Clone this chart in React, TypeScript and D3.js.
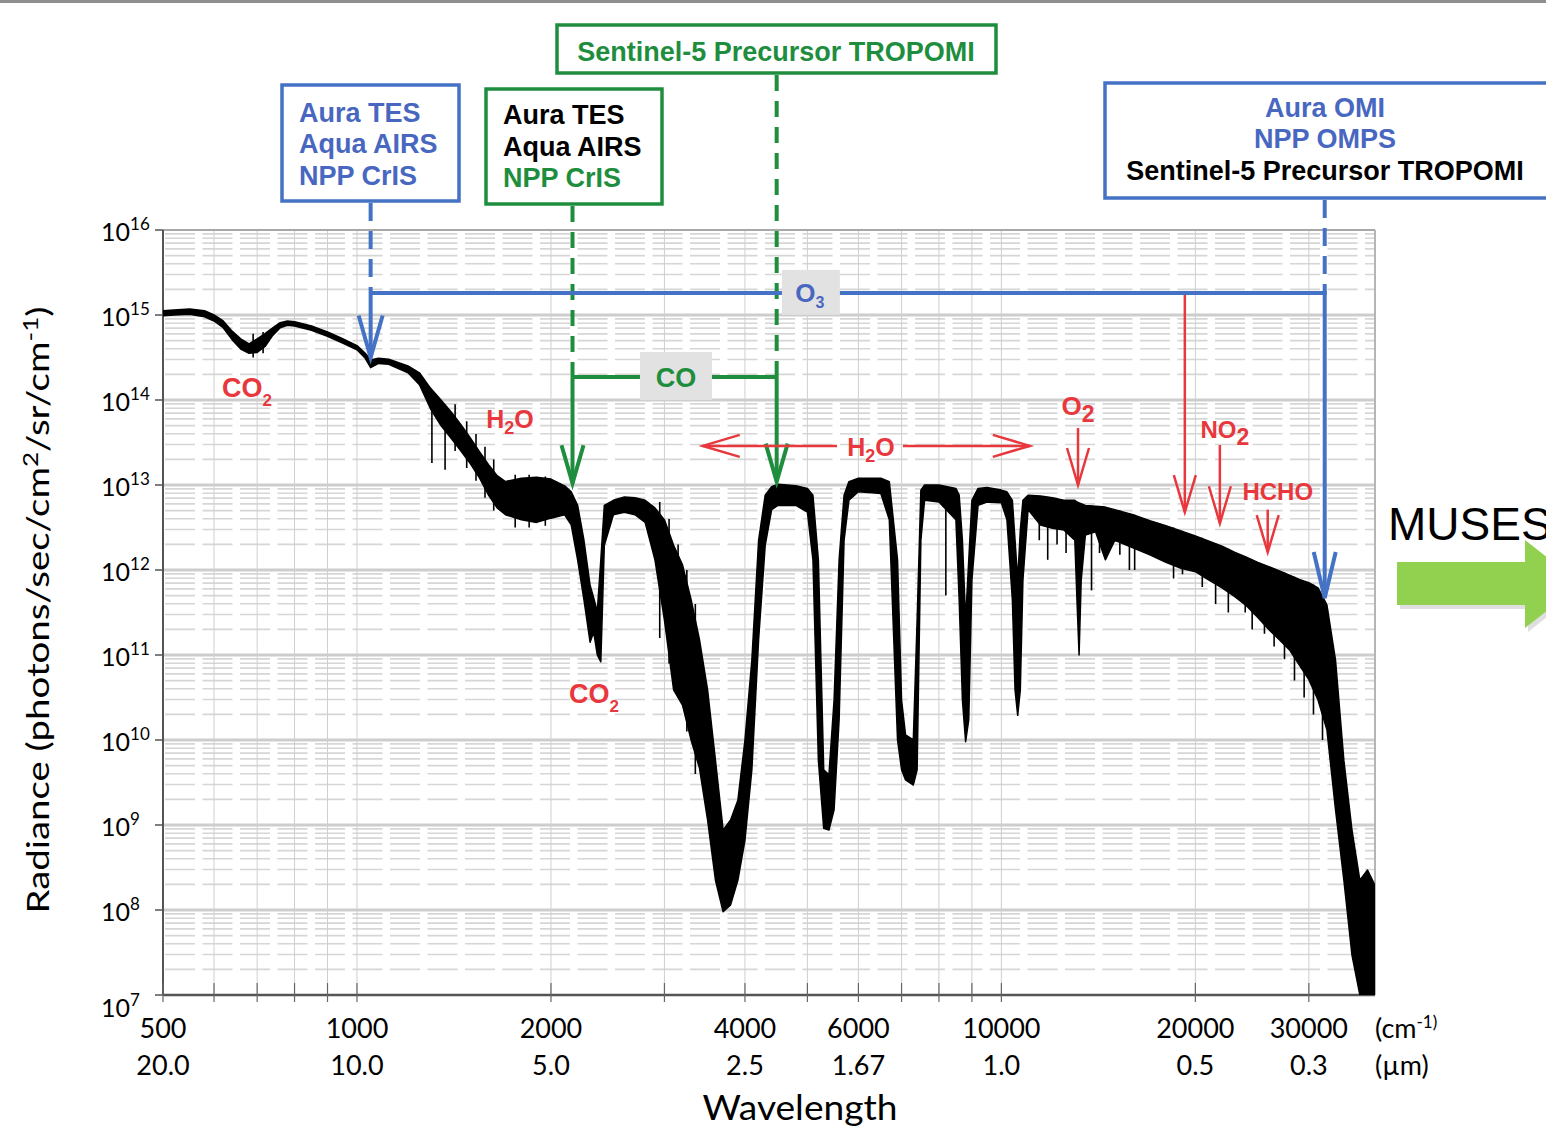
import React from "react";
import * as d3 from "d3";

// ---------- Spectrum: wavenumber in cm^-1, log10 radiance envelope ----------
const wavenumber = [
  500, 520, 550, 580, 600, 620, 640, 660, 680, 700,
  720, 740, 760, 780, 800, 850, 900, 950, 1000, 1030,
  1050, 1080, 1120, 1200, 1250, 1300, 1350, 1400, 1450, 1500,
  1550, 1600, 1650, 1700, 1800, 1900, 2000, 2100, 2150, 2200,
  2250, 2300, 2330, 2360, 2390, 2420, 2500, 2600, 2700, 2800,
  2900, 3000, 3100, 3200, 3300, 3400, 3500, 3600, 3700, 3800,
  3900, 4000, 4100, 4200, 4300, 4400, 4500, 4800, 5000, 5100,
  5200, 5300, 5400, 5500, 5600, 5700, 5800, 6000, 6500, 6700,
  6900, 7000, 7100, 7300, 7400, 7500, 7600, 8000, 8500, 8600,
  8700, 8800, 8900, 9000, 9200, 9500, 10000, 10200, 10400, 10500,
  10600, 10700, 10800, 11000, 11500, 12000, 12500, 13000, 13100, 13200,
  13300, 13500, 14000, 14500, 15000, 16000, 17000, 18000, 19000, 20000,
  21000, 22000, 23000, 24000, 25000, 26000, 27000, 28000, 29000, 30000,
  31000, 32000, 33000, 34000, 35000, 36000, 37000, 38000,
];
const radianceUpperLog10 = [
  15.05, 15.06, 15.07, 15.05, 15.0, 14.93, 14.81, 14.72, 14.66, 14.72,
  14.78, 14.85, 14.91, 14.93, 14.92, 14.87, 14.8, 14.72, 14.64, 14.55,
  14.47, 14.49, 14.48, 14.4, 14.32, 14.14, 14.0, 13.86, 13.71, 13.55,
  13.39, 13.24, 13.11, 13.04, 13.08, 13.09, 13.07, 12.99, 12.92, 12.76,
  12.35, 11.82, 11.67, 11.51, 12.12, 12.76, 12.82, 12.86, 12.85, 12.82,
  12.73, 12.59, 12.29, 12.06, 11.65, 11.18, 10.59, 9.76, 8.94, 9.06,
  9.29, 10.0, 10.94, 12.35, 12.88, 12.98, 13.01, 12.99, 12.96, 12.88,
  12.12, 9.65, 9.59, 10.47, 12.12, 12.88, 13.04, 13.08, 13.08, 13.04,
  12.12, 10.47, 10.06, 10.0, 11.41, 12.94, 13.0, 13.0, 12.96, 12.88,
  12.35, 11.41, 12.12, 12.82, 12.96, 12.97, 12.94, 12.92, 12.82, 12.35,
  11.88, 12.47, 12.82, 12.88, 12.87, 12.85, 12.82, 12.82, 12.8, 12.79,
  12.78, 12.76, 12.75, 12.74, 12.71, 12.65, 12.58, 12.52, 12.46, 12.4,
  12.34, 12.28, 12.21, 12.15, 12.09, 12.04, 11.99, 11.94, 11.89, 11.85,
  11.79, 11.59, 10.94, 9.76, 8.94, 8.35, 8.47, 8.29,
];
const radianceLowerLog10 = [
  14.99, 15.0, 15.01, 14.98, 14.93, 14.85, 14.71, 14.6, 14.55, 14.56,
  14.63, 14.76, 14.85, 14.88, 14.87, 14.82, 14.75, 14.67, 14.59, 14.49,
  14.38, 14.43, 14.42, 14.32, 14.18, 13.9, 13.7, 13.55, 13.4, 13.25,
  13.08, 12.88, 12.73, 12.65, 12.59, 12.56, 12.61, 12.65, 12.53, 12.12,
  11.65, 11.15, 11.27, 11.0, 10.92, 12.29, 12.65, 12.68, 12.65, 12.56,
  12.12, 11.41, 10.59, 10.41, 10.0, 9.67, 9.06, 8.35, 7.98, 8.06,
  8.35, 8.82, 9.65, 11.18, 12.29, 12.71, 12.76, 12.76, 12.68, 12.12,
  9.76, 8.96, 8.94, 9.18, 10.24, 12.35, 12.82, 12.92, 12.9, 12.59,
  10.0, 9.65, 9.53, 9.47, 9.65, 12.35, 12.82, 12.8, 12.59, 11.65,
  10.47, 9.98, 10.24, 11.88, 12.76, 12.8, 12.79, 12.59, 11.65, 10.59,
  10.29, 10.59, 11.88, 12.71, 12.53, 12.49, 12.47, 12.35, 11.65, 11.0,
  11.88, 12.41, 12.45, 12.12, 12.35, 12.26, 12.18, 12.09, 12.02, 11.98,
  11.88, 11.79, 11.69, 11.58, 11.44, 11.3, 11.18, 11.06, 10.88, 10.71,
  10.47, 10.12, 9.18, 8.35, 7.47, 7.0, 7.0, 7.0,
];

// Narrow absorption lines (each spans an upper and a lower value)
const spikeWavenumber = [
  690, 715, 1307, 1370, 1420, 1480, 1530, 1580, 1630, 1760,
  1850, 1960, 2950, 3050, 3150, 3250, 3350, 8200, 11450, 11800,
  12200, 12600, 13800, 14200, 15270, 15800, 16100, 17600, 18500, 19100,
  20500, 21500, 22500, 23900, 24500, 25600, 26500, 27500, 28500, 29500,
  30500, 31500,
];
const spikeUpperLog10 = [
  14.78, 14.8, 14.06, 13.9, 13.95, 13.75, 13.6, 13.45, 13.3, 13.12,
  13.12, 13.1, 12.8, 12.6, 12.3, 12.0, 11.6, 12.97, 12.87, 12.86,
  12.84, 12.82, 12.76, 12.75, 12.7, 12.67, 12.65, 12.55, 12.5, 12.46,
  12.38, 12.31, 12.25, 12.16, 12.12, 12.06, 12.02, 11.97, 11.92, 11.87,
  11.83, 11.7,
];
const spikeLowerLog10 = [
  14.5, 14.55, 13.26, 13.18, 13.4, 13.2, 13.05, 12.85, 12.7, 12.5,
  12.5, 12.52, 11.2, 10.9, 10.5, 10.1, 9.6, 11.7, 12.35, 12.12,
  12.3, 12.2, 11.76, 12.2, 12.18, 12.0, 12.0, 12.12, 11.9, 11.95,
  11.8, 11.6, 11.5, 11.5, 11.3, 11.25, 11.1, 10.95, 10.7, 10.5,
  10.3, 10.0,
];

// ---------- Axes ----------
const xLabelTicks = [500, 1000, 2000, 4000, 6000, 10000, 20000, 30000];
const wavenumberLabels = ["500", "1000", "2000", "4000", "6000", "10000", "20000", "30000"];
const wavelengthLabels = ["20.0", "10.0", "5.0", "2.5", "1.67", "1.0", "0.5", "0.3"];
const xGridTicks = [500, 600, 700, 800, 900, 1000, 2000, 3000, 4000, 5000, 6000, 7000, 8000, 9000, 10000, 20000, 30000];
const yDecadeExponents = [7, 8, 9, 10, 11, 12, 13, 14, 15, 16];

// ---------- Annotations (wavenumber, log10 radiance) ----------
const o3Bracket = { from: 1050, to: 31750, level: 15.26, tipFrom: 14.5, tipTo: 11.67, labelAt: 5045 };
const coBracket = { from: 2160, to: 4480, level: 14.27, tipFrom: 13.02, tipTo: 13.04, labelAt: 3126 };
const redArrowWavenumber = [19260, 13150, 21830, 25900];
const redArrowStartLog10 = [15.26, 13.67, 13.47, 12.71];
const redArrowEndLog10 = [12.68, 13.0, 12.55, 12.21];
const h2oSpan = { from: 3440, to: 11070, level: 13.46, labelAt: 6275 };

type Part = [string, boolean];
const redLabels: { wn: number; lg: number; parts: Part[]; size: number; sub: number; dy: number }[] = [
  { wn: 675, lg: 14.035, parts: [["CO", false], ["2", true]], size: 27, sub: 17, dy: 9 },
  { wn: 1727, lg: 13.67, parts: [["H", false], ["2", true], ["O", false]], size: 25, sub: 18, dy: 6 },
  { wn: 2333, lg: 10.44, parts: [["CO", false], ["2", true]], size: 27, sub: 17, dy: 9 },
  { wn: 6275, lg: 13.34, parts: [["H", false], ["2", true], ["O", false]], size: 25, sub: 18, dy: 6 },
  { wn: 13150, lg: 13.82, parts: [["O", false], ["2", true]], size: 26, sub: 23, dy: 7 },
  { wn: 22220, lg: 13.55, parts: [["NO", false], ["2", true]], size: 24, sub: 23, dy: 7 },
  { wn: 26850, lg: 12.82, parts: [["HCHO", false]], size: 24, sub: 18, dy: 0 },
];

const BLUE = "#4472C4";
const BLUE_TEXT = "#4867C0";
const GREEN = "#1E8E3E";
const RED = "#E8383D";
const BOLD = "'Liberation Sans', Arial, sans-serif";
const NUM = "Lato, 'Open Sans', sans-serif";

function parts(ps: Part[], size: number, sub: number, dy: number) {
  let shifted = false;
  return ps.map(([t, isSub], i) => {
    let d = 0;
    if (isSub && !shifted) { d = dy; shifted = true; }
    else if (!isSub && shifted) { d = -dy; shifted = false; }
    return (
      <tspan key={i} dy={d} fontSize={isSub ? sub : size}>{t}</tspan>
    );
  });
}

const vDown = (cx: number, tip: number, hw: number, len: number) =>
  `M${cx - hw},${tip - len}L${cx},${tip}L${cx + hw},${tip - len}`;
const vLeft = (tip: number, cy: number, hw: number, len: number) =>
  `M${tip + len},${cy - hw}L${tip},${cy}L${tip + len},${cy + hw}`;
const vRight = (tip: number, cy: number, hw: number, len: number) =>
  `M${tip - len},${cy - hw}L${tip},${cy}L${tip - len},${cy + hw}`;

export default function App() {
  const W = 1546, H = 1128;
  const L = 163, R = 1375, T = 230, B = 995;
  const x = d3.scaleLog().domain([500, 38000]).range([L, R]);
  const y = d3.scaleLog().domain([1e7, 1e16]).range([B, T]);
  const yl = (v: number) => y(Math.pow(10, v));

  const spectrum = wavenumber.map((w, i) => ({ w, hi: radianceUpperLog10[i], lo: radianceLowerLog10[i] }));
  const areaGen = d3
    .area<{ w: number; hi: number; lo: number }>()
    .x((d) => x(d.w))
    .y0((d) => yl(d.lo))
    .y1((d) => yl(d.hi));

  const minorY: number[] = [];
  for (let e = 7; e < 16; e++) for (let m = 2; m <= 9; m++) minorY.push(m * Math.pow(10, e));

  const o3y = yl(o3Bracket.level);
  const coy = yl(coBracket.level);
  const h2oy = yl(h2oSpan.level);
  const h2oCx = x(h2oSpan.labelAt);

  return (
    <div style={{ position: "absolute", left: 0, top: 0 }}>
      <svg width={W} height={H} style={{ display: "block", background: "#fff" }}>
        <defs>
          <clipPath id="plotClip">
            <rect x={L} y={T} width={R - L} height={B - T} />
          </clipPath>
        </defs>
        <rect x={0} y={0} width={W} height={3} fill="#8f8f8f" />

        {/* grid */}
        <g>
          {minorY.map((v, i) => (
            <line key={"m" + i} x1={L} x2={R} y1={y(v)} y2={y(v)} stroke="#d6d6d6" strokeWidth={1.6} strokeDasharray="30 7.5" strokeDashoffset={-2} />
          ))}
          {yDecadeExponents.slice(1, -1).map((e) => (
            <line key={"M" + e} x1={L} x2={R} y1={yl(e)} y2={yl(e)} stroke="#cdcdcd" strokeWidth={3} />
          ))}
          {xGridTicks.map((t) => (
            <line key={"v" + t} x1={x(t)} x2={x(t)} y1={T} y2={B} stroke="#cfcfcf" strokeWidth={1} />
          ))}
        </g>

        {/* frame */}
        <line x1={L} x2={R} y1={T} y2={T} stroke="#a8a8a8" strokeWidth={2} />
        <line x1={R} x2={R} y1={T} y2={B} stroke="#b5b5b5" strokeWidth={2} />
        <line x1={L} x2={L} y1={T} y2={B} stroke="#555" strokeWidth={2} />
        <line x1={L} x2={R} y1={B} y2={B} stroke="#555" strokeWidth={2.5} />
        {yDecadeExponents.map((e) => (
          <line key={"yt" + e} x1={L - 8} x2={L} y1={yl(e)} y2={yl(e)} stroke="#555" strokeWidth={1.5} />
        ))}
        {xGridTicks.map((t) => (
          <line key={"xt" + t} x1={x(t)} x2={x(t)} y1={B - 12} y2={B + 7} stroke="#666" strokeWidth={1.2} />
        ))}

        {/* spectrum */}
        <g clipPath="url(#plotClip)">
          <path d={areaGen(spectrum) || ""} fill="#000" stroke="#000" strokeWidth={1.5} strokeLinejoin="round" />
          {spikeWavenumber.map((w, i) => (
            <line key={"s" + i} x1={x(w)} x2={x(w)} y1={yl(spikeUpperLog10[i])} y2={yl(spikeLowerLog10[i])} stroke="#000" strokeWidth={1.6} />
          ))}
        </g>

        {/* y tick labels */}
        {yDecadeExponents.map((e) => (
          <text key={"yl" + e} x={101} y={yl(e) + (e === 7 ? 22 : 11)} fontFamily={NUM} fontSize={25} fill="#000">
            10<tspan dy={-11} fontSize={17}>{e}</tspan>
          </text>
        ))}

        {/* x tick labels */}
        {xLabelTicks.map((t, i) => (
          <g key={"xl" + t} fontFamily={NUM} fontSize={27} fill="#000" textAnchor="middle">
            <text x={x(t)} y={1038}>{wavenumberLabels[i]}</text>
            <text x={x(t)} y={1075}>{wavelengthLabels[i]}</text>
          </g>
        ))}
        <text x={1375} y={1038} fontFamily={NUM} fontSize={27}>
          (cm<tspan dy={-10} fontSize={17}>-1)</tspan>
        </text>
        <text x={1375} y={1075} fontFamily={NUM} fontSize={27}>(µm)</text>
        <text x={800} y={1120} fontFamily={NUM} fontSize={34} textAnchor="middle" textLength={195} lengthAdjust="spacingAndGlyphs">
          Wavelength
        </text>
        <text transform="translate(49,610) rotate(-90)" fontFamily={NUM} fontSize={31} textAnchor="middle" textLength={607} lengthAdjust="spacingAndGlyphs">
          Radiance (photons/sec/cm<tspan dy={-11} fontSize={21}>2</tspan>
          <tspan dy={11}>/sr/cm</tspan>
          <tspan dy={-11} fontSize={21}>-1</tspan>
          <tspan dy={11}>)</tspan>
        </text>

        {/* instrument boxes */}
        <g fontFamily={BOLD} fontWeight="bold" fontSize={27}>
          <rect x={282} y={85} width={177} height={116} fill="#fff" stroke={BLUE} strokeWidth={3.5} />
          <text x={299} y={122} fill={BLUE_TEXT}>Aura TES</text>
          <text x={299} y={153} fill={BLUE_TEXT}>Aqua AIRS</text>
          <text x={299} y={185} fill={BLUE_TEXT}>NPP CrIS</text>

          <rect x={486} y={89} width={176} height={115} fill="#fff" stroke={GREEN} strokeWidth={3.5} />
          <text x={503} y={124} fill="#000">Aura TES</text>
          <text x={503} y={156} fill="#000">Aqua AIRS</text>
          <text x={503} y={187} fill={GREEN}>NPP CrIS</text>

          <rect x={557} y={25} width={439} height={48} fill="#fff" stroke={GREEN} strokeWidth={3.5} />
          <text x={776} y={61} fill={GREEN} textAnchor="middle">Sentinel-5 Precursor TROPOMI</text>

          <rect x={1105} y={83} width={450} height={115} fill="#fff" stroke={BLUE} strokeWidth={3.5} />
          <text x={1325} y={117} fill={BLUE_TEXT} textAnchor="middle">Aura OMI</text>
          <text x={1325} y={148} fill={BLUE_TEXT} textAnchor="middle">NPP OMPS</text>
          <text x={1325} y={180} fill="#000" textAnchor="middle">Sentinel-5 Precursor TROPOMI</text>
        </g>

        {/* dashed connectors */}
        <line x1={x(o3Bracket.from)} x2={x(o3Bracket.from)} y1={203} y2={o3y} stroke={BLUE} strokeWidth={4} strokeDasharray="18 10" />
        <line x1={x(o3Bracket.to)} x2={x(o3Bracket.to)} y1={200} y2={o3y} stroke={BLUE} strokeWidth={4} strokeDasharray="18 10" />
        <line x1={x(coBracket.from)} x2={x(coBracket.from)} y1={206} y2={coy} stroke={GREEN} strokeWidth={4} strokeDasharray="16 10" />
        <line x1={x(coBracket.to)} x2={x(coBracket.to)} y1={75} y2={coy} stroke={GREEN} strokeWidth={4} strokeDasharray="16 10" />

        {/* red arrows */}
        {redArrowWavenumber.map((w, i) => (
          <g key={"ra" + i} stroke={RED} strokeWidth={2.5} fill="none">
            <line x1={x(w)} x2={x(w)} y1={yl(redArrowStartLog10[i])} y2={yl(redArrowEndLog10[i])} />
            <path d={vDown(x(w), yl(redArrowEndLog10[i]), 11, 37)} />
          </g>
        ))}

        {/* O3 bracket */}
        <g stroke={BLUE} strokeWidth={4} fill="none">
          <line x1={x(o3Bracket.from)} x2={x(o3Bracket.to) + 2} y1={o3y} y2={o3y} />
          <line x1={x(o3Bracket.from)} x2={x(o3Bracket.from)} y1={o3y} y2={yl(o3Bracket.tipFrom)} />
          <path d={vDown(x(o3Bracket.from), yl(o3Bracket.tipFrom), 12, 42)} />
          <line x1={x(o3Bracket.to)} x2={x(o3Bracket.to)} y1={o3y} y2={yl(o3Bracket.tipTo)} />
          <path d={vDown(x(o3Bracket.to), yl(o3Bracket.tipTo), 11, 46)} />
        </g>
        <rect x={x(o3Bracket.labelAt) - 28} y={o3y - 23} width={58} height={45} fill="#e2e2e2" />
        <text x={x(o3Bracket.labelAt)} y={o3y + 9} fontFamily={BOLD} fontWeight="bold" fill={BLUE_TEXT} textAnchor="middle">
          {parts([["O", false], ["3", true]], 26, 16, 6)}
        </text>

        {/* CO bracket */}
        <g stroke={GREEN} strokeWidth={4} fill="none">
          <line x1={x(coBracket.from)} x2={x(coBracket.to)} y1={coy} y2={coy} />
          <line x1={x(coBracket.from)} x2={x(coBracket.from)} y1={coy} y2={yl(coBracket.tipFrom)} />
          <path d={vDown(x(coBracket.from), yl(coBracket.tipFrom), 11, 38)} />
          <line x1={x(coBracket.to)} x2={x(coBracket.to)} y1={coy} y2={yl(coBracket.tipTo)} />
          <path d={vDown(x(coBracket.to), yl(coBracket.tipTo), 11, 38)} />
        </g>
        <rect x={x(coBracket.labelAt) - 36} y={coy - 25} width={72} height={48} fill="#e2e2e2" />
        <text x={x(coBracket.labelAt)} y={coy + 10} fontFamily={BOLD} fontWeight="bold" fontSize={27} fill={GREEN} textAnchor="middle">CO</text>

        {/* H2O double arrow */}
        <g stroke={RED} strokeWidth={2.5} fill="none">
          <line x1={x(h2oSpan.from)} x2={h2oCx - 34} y1={h2oy} y2={h2oy} />
          <line x1={h2oCx + 32} x2={x(h2oSpan.to)} y1={h2oy} y2={h2oy} />
          <path d={vLeft(x(h2oSpan.from), h2oy, 11, 37)} />
          <path d={vRight(x(h2oSpan.to), h2oy, 11, 37)} />
        </g>

        {/* red labels */}
        {redLabels.map((lb, i) => (
          <text key={"rl" + i} x={x(lb.wn)} y={yl(lb.lg)} fontFamily={BOLD} fontWeight="bold" fill={RED} textAnchor="middle">
            {parts(lb.parts, lb.size, lb.sub, lb.dy)}
          </text>
        ))}

        {/* MUSES arrow (cut by the right edge, as in the reference) */}
        <text x={1388} y={540} fontFamily="'Liberation Sans', Arial, sans-serif" fontSize={46} fill="#000">MUSES</text>
        <polygon points="1400,566 1528,566 1528,544 1584,588 1528,632 1528,609 1400,609" fill="#c9c9c9" opacity={0.6} />
        <polygon points="1397,562 1525,562 1525,540 1581,584 1525,628 1525,605 1397,605" fill="#92D050" />
      </svg>
    </div>
  );
}
